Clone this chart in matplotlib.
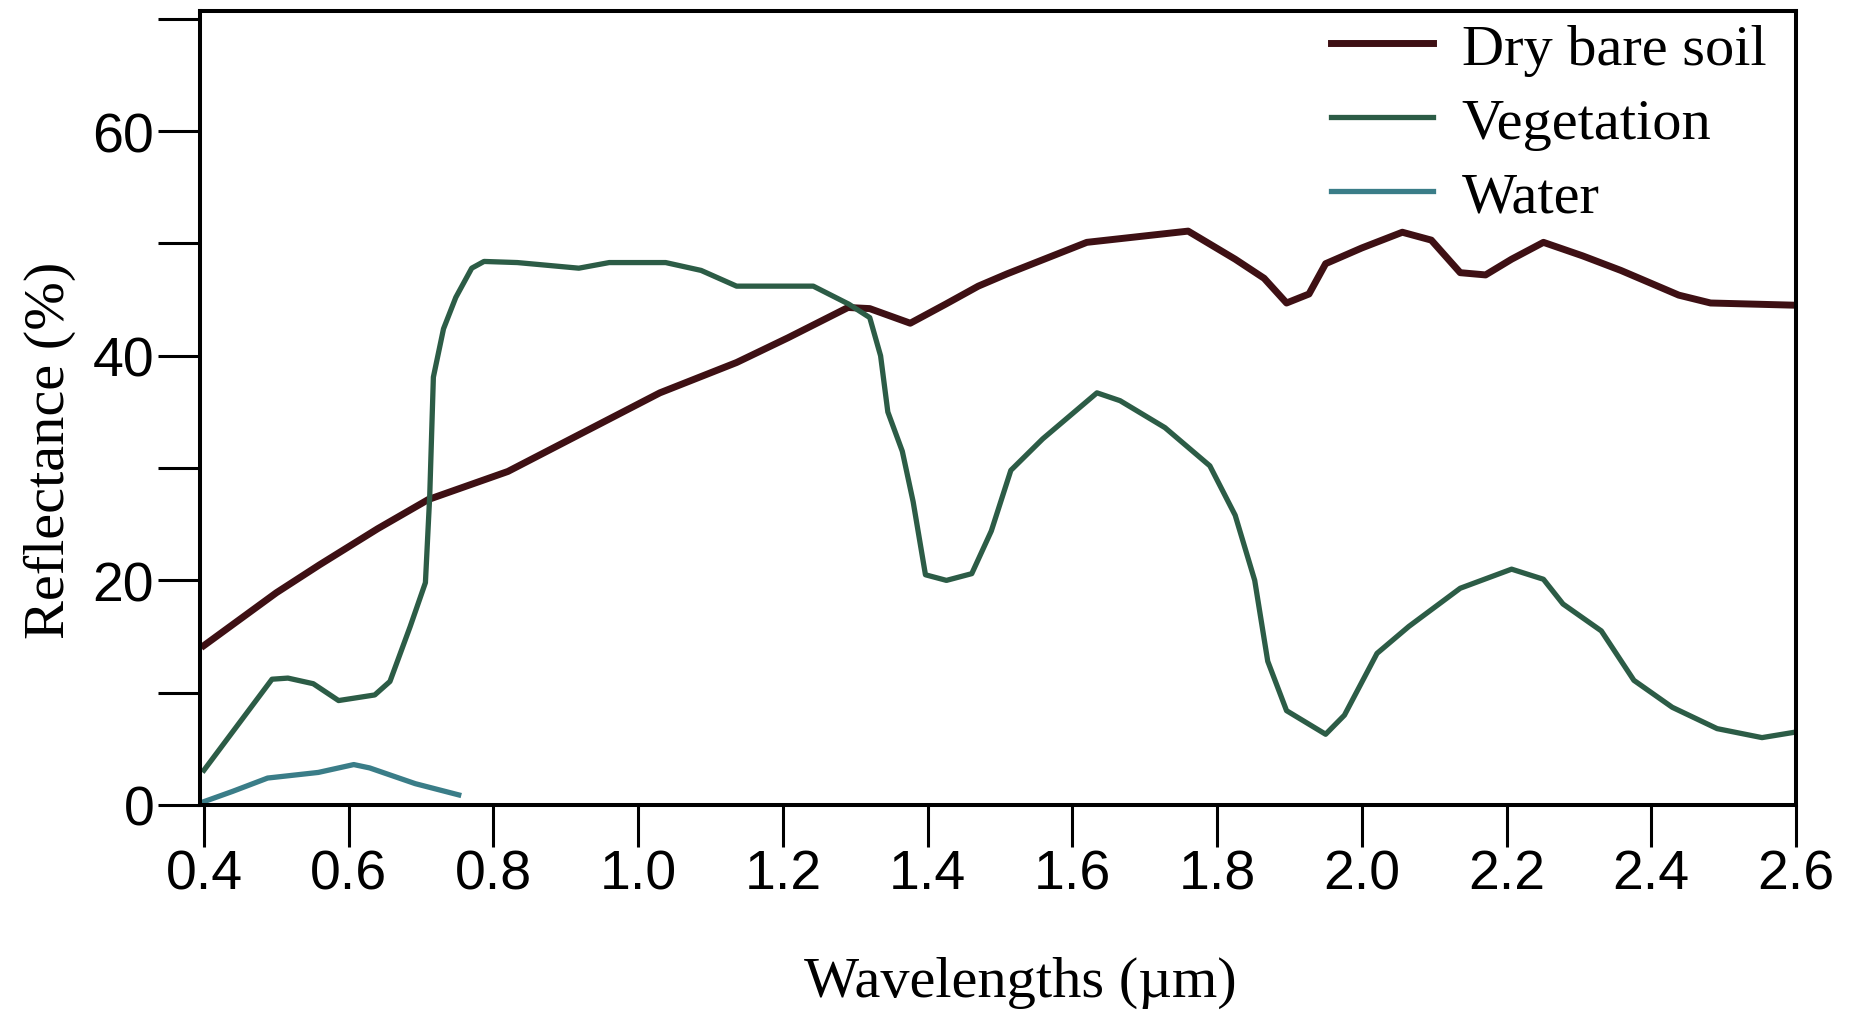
import matplotlib
matplotlib.use("Agg")
import matplotlib.pyplot as plt

# values (wavelength in um, reflectance in %)
soil_x = [0.40, 0.50, 0.56, 0.64, 0.71, 0.82, 0.925, 1.03, 1.136, 1.207, 1.29, 1.32,
          1.376, 1.425, 1.47, 1.51, 1.62, 1.69, 1.76, 1.825, 1.865, 1.896, 1.927, 1.95,
          2.00, 2.056, 2.096, 2.136, 2.171, 2.207, 2.251, 2.305, 2.358, 2.438, 2.482, 2.60]
soil_y = [14.2, 18.9, 21.4, 24.6, 27.2, 29.7, 33.2, 36.7, 39.4, 41.6, 44.3, 44.2,
          42.9, 44.6, 46.2, 47.3, 50.1, 50.6, 51.1, 48.6, 46.9, 44.7, 45.5, 48.2,
          49.6, 51.0, 50.3, 47.4, 47.2, 48.6, 50.1, 48.9, 47.6, 45.4, 44.7, 44.5]

veg_x = [0.40, 0.494, 0.516, 0.551, 0.586, 0.636, 0.657, 0.685, 0.706, 0.712, 0.717,
         0.731, 0.748, 0.77, 0.787, 0.833, 0.918, 0.96, 1.038, 1.087, 1.136, 1.242,
         1.291, 1.32, 1.335, 1.345, 1.365, 1.38, 1.397, 1.426, 1.461, 1.488, 1.515,
         1.559, 1.634, 1.666, 1.728, 1.79, 1.825, 1.852, 1.87, 1.896, 1.95, 1.976,
         2.021, 2.065, 2.136, 2.207, 2.251, 2.278, 2.331, 2.376, 2.429, 2.491, 2.553, 2.60]
veg_y = [3.1, 11.2, 11.3, 10.8, 9.3, 9.8, 11.0, 15.9, 19.8, 27.6, 38.1,
         42.4, 45.2, 47.8, 48.4, 48.3, 47.8, 48.3, 48.3, 47.6, 46.2, 46.2,
         44.6, 43.4, 40.0, 35.0, 31.5, 27.0, 20.5, 20.0, 20.6, 24.4, 29.8,
         32.6, 36.7, 36.0, 33.6, 30.2, 25.8, 20.0, 12.8, 8.4, 6.3, 8.0,
         13.5, 15.9, 19.3, 21.0, 20.1, 17.9, 15.5, 11.1, 8.7, 6.8, 6.0, 6.5]

water_x = [0.40, 0.439, 0.488, 0.558, 0.607, 0.629, 0.692, 0.752]
water_y = [0.3, 1.2, 2.4, 2.9, 3.6, 3.3, 1.9, 0.9]

x_ticks = [0.4, 0.6, 0.8, 1.0, 1.2, 1.4, 1.6, 1.8, 2.0, 2.2, 2.4, 2.6]
y_ticks = [0, 10, 20, 30, 40, 50, 60, 70]
y_tick_labels = ["0", "", "20", "", "40", "", "60", ""]

plt.rcParams['font.family'] = ['Liberation Sans', 'DejaVu Sans']

fig = plt.figure(figsize=(18.57, 10.20), dpi=100)
ax = fig.add_axes([200/1857, 1 - 806/1020, 1596/1857, 794/1020])

ax.plot(soil_x, soil_y, color="#3e1014", lw=5.0, label="Dry bare soil", solid_joinstyle="round")
ax.plot(veg_x, veg_y, color="#2c5c46", lw=3.8, label="Vegetation", solid_joinstyle="round")
ax.plot(water_x, water_y, color="#3a7d88", lw=3.8, label="Water", solid_joinstyle="round")

ax.set_xlim(0.3945, 2.6)
ax.set_ylim(0, 70.7)
ax.set_xticks(x_ticks)
ax.set_xticklabels([f"{t:.1f}" for t in x_ticks])
ax.set_yticks(y_ticks)
ax.set_yticklabels(y_tick_labels)

ax.tick_params(direction='out', length=30, width=2.2, labelsize=40, colors='black')
ax.tick_params(axis='x', pad=1)
ax.tick_params(axis='y', pad=3)
for s in ax.spines.values():
    s.set_linewidth(2.9)

serif = 'Liberation Serif'
ax.set_xlabel("Wavelengths (µm)", family=serif, fontsize=42, va='center')
ax.xaxis.set_label_coords(0.514, -0.223)
ax.set_ylabel("Reflectance (%)", family=serif, fontsize=42, va='center')
ax.yaxis.set_label_coords(-0.094, 0.448)

ax.legend(loc='upper right', bbox_to_anchor=(0.9815, 0.985), frameon=False,
          prop={'family': serif, 'size': 42}, handlelength=1.75, handletextpad=0.5,
          labelspacing=0.36, borderpad=0, borderaxespad=0)

fig.savefig("out.png", dpi=100)
